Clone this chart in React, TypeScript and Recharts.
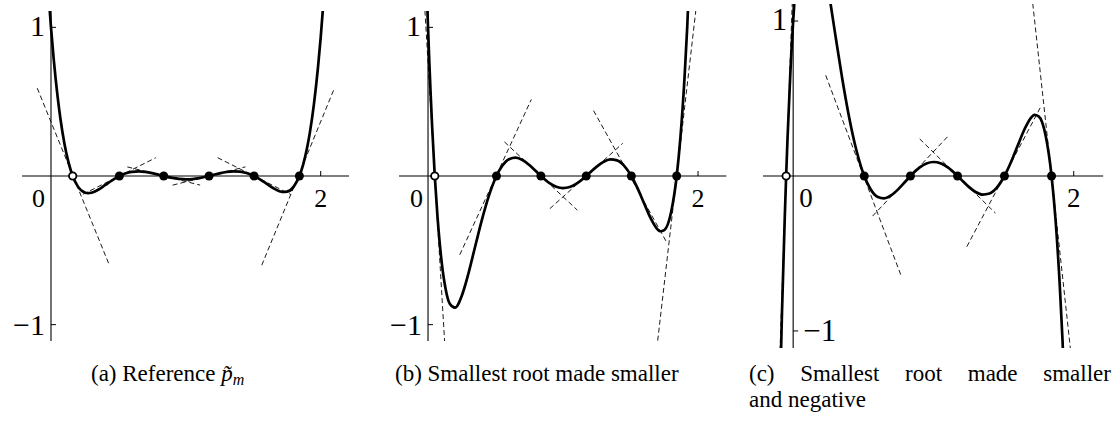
import React from 'react';
import { ComposedChart, Line, ReferenceDot, ReferenceLine, Scatter, XAxis, YAxis } from 'recharts';

// Shared axis ranges for all three panels
const X_DOMAIN: [number, number] = [-0.215, 2.21];
const Y_DOMAIN: [number, number] = [-1.11, 1.11];

const SERIF = 'Liberation Serif, Times New Roman, Times, DejaVu Serif, serif';

// (a) reference polynomial, sampled along x
const refX = [
	-0.02, 0, 0.02, 0.048, 0.07, 0.1, 0.13, 0.161, 0.2, 0.25, 0.275, 0.3, 0.35, 0.4, 0.45, 0.507, 0.55, 0.6, 0.65,
	0.7, 0.75, 0.8, 0.836, 0.9, 0.95, 1.0, 1.05, 1.1, 1.172, 1.2, 1.25, 1.3, 1.35, 1.4, 1.45, 1.506, 1.55, 1.6, 1.65,
	1.7, 1.72, 1.75, 1.8, 1.842, 1.87, 1.9, 1.92, 1.95, 1.98, 2.0, 2.02,
];
const refY = [
	1.246, 1, 0.788, 0.542, 0.385, 0.216, 0.0913, 0, -0.0715, -0.1114, -0.1157, -0.1127, -0.0922, -0.0619, -0.0304, 0,
	0.0166, 0.028, 0.0312, 0.0277, 0.0193, 0.0083, 0, -0.013, -0.0198, -0.0224, -0.0205, -0.0144, 0, 0.0065, 0.0179,
	0.027, 0.0317, 0.03, 0.0205, 0, -0.0226, -0.0527, -0.0825, -0.104, -0.1078, -0.1056, -0.0714, 0, 0.0771, 0.1933,
	0.2933, 0.4836, 0.7302, 0.931, 1.1646,
];
const refRoots = [0.161, 0.507, 0.836, 1.172, 1.506, 1.842];
// tangent segments at each root: [x1, y1, x2, y2]
const refTangents = [
	[-0.102, 0.591, 0.433, -0.6],
	[0.237, -0.1229, 0.777, 0.1229],
	[0.566, 0.0612, 1.106, -0.0612],
	[0.902, -0.0615, 1.442, 0.0615],
	[1.236, 0.123, 1.776, -0.123],
	[1.563, -0.6, 2.102, 0.591],
];

// (b) smallest root moved towards zero
const smallX = [
	-0.01, 0, 0.01, 0.02, 0.03, 0.05, 0.07, 0.1, 0.13, 0.161, 0.2, 0.25, 0.275, 0.3, 0.35, 0.4, 0.45, 0.507, 0.55, 0.6,
	0.65, 0.7, 0.75, 0.8, 0.836, 0.9, 0.95, 1.0, 1.05, 1.1, 1.172, 1.2, 1.25, 1.3, 1.35, 1.4, 1.45, 1.506, 1.55, 1.6,
	1.65, 1.7, 1.72, 1.75, 1.8, 1.842, 1.87, 1.9, 1.92, 1.95,
];
const smallY = [
	1.264, 1, 0.759, 0.54, 0.341, 0, -0.272, -0.571, -0.759, -0.86, -0.886, -0.806, -0.735, -0.653, -0.471, -0.292,
	-0.1356, 0, 0.0686, 0.1128, 0.1234, 0.1076, 0.074, 0.0314, 0, -0.0482, -0.0726, -0.0817, -0.0743, -0.0517, 0,
	0.0232, 0.0633, 0.0954, 0.1117, 0.1054, 0.0718, 0, -0.0787, -0.1829, -0.2855, -0.359, -0.3718, -0.3637, -0.2455, 0,
	0.2645, 0.6621, 1.0042, 1.6538,
];
const smallRoots = [0.05, 0.507, 0.836, 1.172, 1.506, 1.842];
const smallTangents = [
	[-0.22, 4.121, 0.32, -4.121],
	[0.235, -0.53, 0.765, 0.515],
	[0.566, 0.2295, 1.106, -0.2295],
	[0.902, -0.2198, 1.442, 0.2198],
	[1.226, 0.44, 1.77, -0.45],
	[1.572, -2.1231, 2.112, 2.1231],
];

// (c) smallest root moved past zero
const negX = [
	-0.1, -0.08, -0.06, -0.05, -0.04, -0.02, -0.01, 0, 0.01, 0.02, 0.048, 0.1, 0.161, 0.2, 0.25, 0.275, 0.3, 0.35, 0.4,
	0.45, 0.507, 0.55, 0.6, 0.65, 0.7, 0.75, 0.8, 0.836, 0.9, 0.95, 1.0, 1.05, 1.1, 1.172, 1.2, 1.25, 1.3, 1.35, 1.4,
	1.45, 1.506, 1.55, 1.6, 1.65, 1.7, 1.72, 1.75, 1.8, 1.842, 1.87, 1.9, 1.92, 1.95,
];
const negY = [
	-1.636, -0.893, -0.271, 0, 0.245, 0.665, 0.843, 1, 1.138, 1.259, 1.512, 1.712, 1.635, 1.477, 1.209, 1.062, 0.914,
	0.628, 0.375, 0.1695, 0, -0.0823, -0.1333, -0.1439, -0.1241, -0.0845, -0.0356, 0, 0.0538, 0.0807, 0.0903, 0.0817,
	0.0567, 0, -0.0252, -0.0686, -0.103, -0.1203, -0.1132, -0.0769, 0, 0.084, 0.1947, 0.3034, 0.3808, 0.3941, 0.3851,
	0.2595, 0, -0.2791, -0.6979, -1.0579, -1.7409,
];
const negRoots = [-0.05, 0.507, 0.836, 1.172, 1.506, 1.842];
const negTangents = [
	[-0.32, -6.957, 0.22, 6.957],
	[0.232, 0.65, 0.77, -0.645],
	[0.566, -0.2587, 1.106, 0.2587],
	[0.902, 0.2394, 1.442, -0.2394],
	[1.238, -0.456, 1.768, 0.452],
	[1.572, 2.2416, 2.112, -2.2416],
];

type Pt = { x: number; y: number };
type TickLabel = { x: number; y: number; text: string; dx: number; dy: number; anchor: 'start' | 'middle' | 'end'; size: number };

const toPoints = (xs: number[], ys: number[]): Pt[] => xs.map((x, i) => ({ x, y: ys[i] }));
const toSegments = (segs: number[][]): Pt[][] =>
	segs.map(([x1, y1, x2, y2]) => [
		{ x: x1, y: y1 },
		{ x: x2, y: y2 },
	]);

const MARGIN = { top: 6, right: 8, bottom: 8, left: 26 };

function TickText(props: any) {
	const { viewBox, txt, offX, offY, anchor, size } = props;
	if (!viewBox) return null;
	return (
		<text
			x={viewBox.x + offX}
			y={viewBox.y + offY}
			textAnchor={anchor}
			style={{ fontFamily: SERIF, fontSize: size }}
			fill="#000"
		>
			{txt}
		</text>
	);
}

const filledDot = (p: any) => <circle cx={p.cx} cy={p.cy} r={4.5} fill="#000" />;
const openDot = (p: any) => <circle cx={p.cx} cy={p.cy} r={3.7} fill="#fff" stroke="#000" strokeWidth={1.8} />;

interface PanelProps {
	plot: { x: number; y: number; w: number; h: number };
	curve: Pt[];
	roots: number[];
	tangents: Pt[][];
	labels: TickLabel[];
}

function PolyPanel({ plot, curve, roots, tangents, labels }: PanelProps) {
	const width = plot.w + MARGIN.left + MARGIN.right;
	const height = plot.h + MARGIN.top + MARGIN.bottom;
	// tick lengths in data units (about 5px)
	const xTick = (5 / plot.h) * (Y_DOMAIN[1] - Y_DOMAIN[0]);
	const yTick = (5 / plot.w) * (X_DOMAIN[1] - X_DOMAIN[0]);
	const open = [{ x: roots[0], y: 0 }];
	const filled = roots.slice(1).map((x) => ({ x, y: 0 }));
	return (
		<div style={{ position: 'absolute', left: plot.x - MARGIN.left, top: plot.y - MARGIN.top }}>
			<ComposedChart width={width} height={height} margin={MARGIN}>
				<XAxis type="number" dataKey="x" domain={X_DOMAIN} allowDataOverflow hide />
				<YAxis type="number" dataKey="y" domain={Y_DOMAIN} allowDataOverflow hide />
				<ReferenceLine y={0} stroke="#000" strokeWidth={1.1} />
				<ReferenceLine x={0} stroke="#000" strokeWidth={1.1} />
				<ReferenceLine segment={[{ x: 2, y: 0 }, { x: 2, y: xTick }]} stroke="#000" strokeWidth={1} />
				<ReferenceLine segment={[{ x: 0, y: 1 }, { x: yTick, y: 1 }]} stroke="#000" strokeWidth={1} />
				<ReferenceLine segment={[{ x: 0, y: -1 }, { x: yTick, y: -1 }]} stroke="#000" strokeWidth={1} />
				{tangents.map((seg, i) => (
					<Line
						key={`t${i}`}
						data={seg}
						dataKey="y"
						type="linear"
						stroke="#000"
						strokeWidth={0.9}
						strokeDasharray="5 3"
						dot={false}
						activeDot={false}
						isAnimationActive={false}
					/>
				))}
				<Line
					data={curve}
					dataKey="y"
					type="monotone"
					stroke="#000"
					strokeWidth={2.7}
					dot={false}
					activeDot={false}
					isAnimationActive={false}
				/>
				<Scatter data={filled} dataKey="y" shape={filledDot} isAnimationActive={false} />
				<Scatter data={open} dataKey="y" shape={openDot} isAnimationActive={false} />
				{labels.map((l, i) => (
					<ReferenceDot
						key={`l${i}`}
						x={l.x}
						y={l.y}
						r={0}
						fill="none"
						stroke="none"
						label={<TickText txt={l.text} offX={l.dx} offY={l.dy} anchor={l.anchor} size={l.size} />}
					/>
				))}
			</ComposedChart>
		</div>
	);
}

const panels: (PanelProps & { id: string })[] = [
	{
		id: 'a',
		plot: { x: 22, y: 11, w: 327, h: 330 },
		curve: toPoints(refX, refY),
		roots: refRoots,
		tangents: toSegments(refTangents),
		labels: [
			{ x: 0, y: 0, text: '0', dx: -6, dy: 31, anchor: 'end', size: 26 },
			{ x: 2, y: 0, text: '2', dx: 0, dy: 31, anchor: 'middle', size: 26 },
			{ x: 0, y: 1, text: '1', dx: -6, dy: 9, anchor: 'end', size: 30 },
			{ x: 0, y: -1, text: '\u22121', dx: -6, dy: 10, anchor: 'end', size: 30 },
		],
	},
	{
		id: 'b',
		plot: { x: 399.3, y: 11, w: 327.4, h: 330 },
		curve: toPoints(smallX, smallY),
		roots: smallRoots,
		tangents: toSegments(smallTangents),
		labels: [
			{ x: 0, y: 0, text: '0', dx: -5, dy: 31, anchor: 'end', size: 26 },
			{ x: 2, y: 0, text: '2', dx: 0, dy: 31, anchor: 'middle', size: 26 },
			{ x: 0, y: 1, text: '1', dx: -7, dy: 9, anchor: 'end', size: 30 },
			{ x: 0, y: -1, text: '\u22121', dx: -6, dy: 10, anchor: 'end', size: 30 },
		],
	},
	{
		id: 'c',
		plot: { x: 762.5, y: 4.3, w: 340.2, h: 344 },
		curve: toPoints(negX, negY),
		roots: negRoots,
		tangents: toSegments(negTangents),
		labels: [
			{ x: 0, y: 0, text: '0', dx: 6, dy: 31, anchor: 'start', size: 27 },
			{ x: 2, y: 0, text: '2', dx: 0, dy: 31, anchor: 'middle', size: 27 },
			{ x: 0, y: 1, text: '1', dx: -6, dy: 9, anchor: 'end', size: 31 },
			{ x: 0, y: -1, text: '\u22121', dx: 10, dy: 10, anchor: 'start', size: 31 },
		],
	},
];

export default function App() {
	return (
		<div style={{ position: 'absolute', left: 0, top: 0, width: 1115, height: 422, background: '#fff' }}>
			{panels.map(({ id, ...p }) => (
				<PolyPanel key={id} {...p} />
			))}
			<svg
				width={1115}
				height={422}
				style={{ position: 'absolute', left: 0, top: 0, pointerEvents: 'none', fontFamily: SERIF, fontSize: 23 }}
			>
				<text x={91} y={381}>
					(a) Reference{' '}
					<tspan fontStyle="italic">p̃</tspan>
					<tspan fontStyle="italic" fontSize={16} dy={4}>
						m
					</tspan>
				</text>
				<text x={395} y={381}>
					(b) Smallest root made smaller
				</text>
				<text x={749} y={381} wordSpacing={19.9}>
					(c) Smallest root made smaller
				</text>
				<text x={749} y={407}>
					and negative
				</text>
			</svg>
		</div>
	);
}
